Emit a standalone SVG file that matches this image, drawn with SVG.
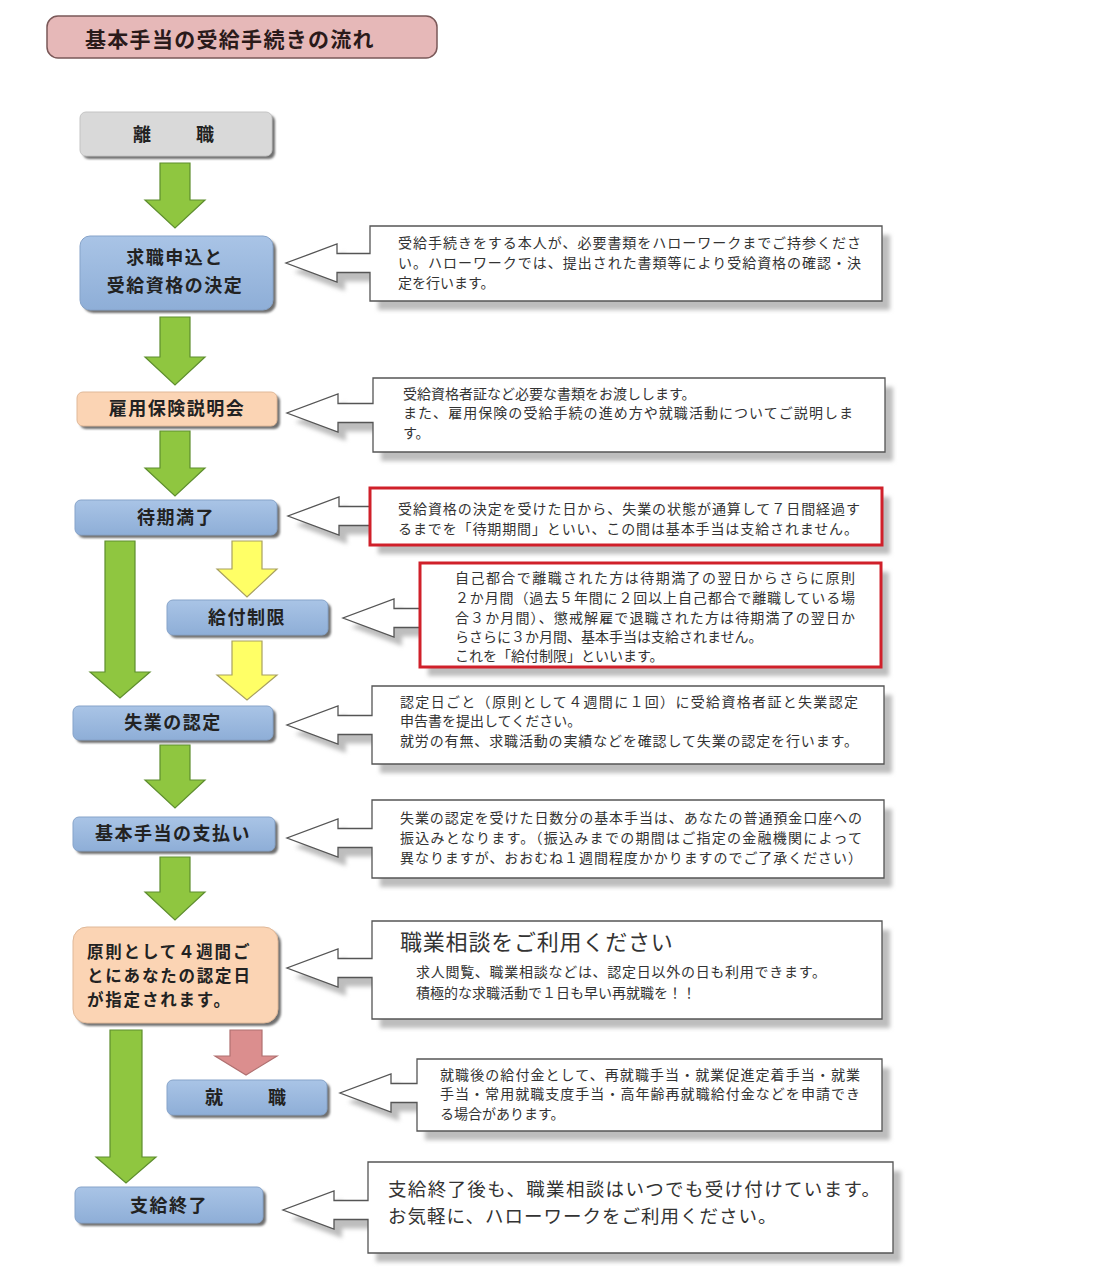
<svg xmlns="http://www.w3.org/2000/svg" width="1115" height="1280" viewBox="0 0 1115 1280">
<defs>
<style>
.jp{font-family:"Noto Sans CJK JP","Noto Sans CJK SC",sans-serif;}
.nt{font-family:"Noto Sans CJK JP",sans-serif;font-weight:bold;font-size:18px;fill:#222;text-anchor:middle;letter-spacing:1.5px;}
.ct{font-family:"Noto Sans CJK JP",sans-serif;font-size:14px;fill:#333;}
.co{fill:#fff;stroke:#555;stroke-width:1.3;}
.sh{fill:#bdbdbd;filter:url(#blur);}
.nsh{fill:#707070;filter:url(#blur1);}
.blue{fill:url(#gBlue);stroke:#86a3c9;stroke-width:1;}
.peach{fill:#fbd4b4;stroke:#e0b898;stroke-width:1;}
.gray{fill:#d9d9d9;stroke:#c4c4c4;stroke-width:1;}
.ga{fill:#8fc640;stroke:#5e8e2e;stroke-width:1.2;}
.ya{fill:#ffff66;stroke:#a8a060;stroke-width:1.2;}
.pa{fill:#db8e8e;stroke:#b07070;stroke-width:1.2;}
.red{fill:none;stroke:#d0202a;stroke-width:3;}
</style>
<linearGradient id="gBlue" x1="0" y1="0" x2="0" y2="1">
<stop offset="0" stop-color="#a9c4e6"/>
<stop offset="1" stop-color="#8eaed7"/>
</linearGradient>
<filter id="blur" x="-10%" y="-20%" width="120%" height="140%"><feGaussianBlur stdDeviation="2"/></filter>
<filter id="blur1" x="-10%" y="-20%" width="120%" height="140%"><feGaussianBlur stdDeviation="1.2"/></filter>
</defs>
<rect width="1115" height="1280" fill="#fff"/>

<g id="title">
<rect x="47" y="16" width="390" height="42" rx="11" fill="#e6b8b8" stroke="#7a5858" stroke-width="1.5"/>
<text x="85" y="47" class="jp" font-weight="bold" font-size="21" letter-spacing="1.3" fill="#2a1a1a">基本手当の受給手続きの流れ</text>
</g>

<g id="connectors">
<path class="ga" d="M160,163 H190 V200 H205 L175,228 L145,200 H160 Z"/>
<path class="ga" d="M160,317 H190 V357 H205 L175,385 L145,357 H160 Z"/>
<path class="ga" d="M160,431 H190 V468 H205 L175,496 L145,468 H160 Z"/>
<path class="ga" d="M105,541 H135 V672 H150 L120,698 L90,672 H105 Z"/>
<path class="ya" d="M232,541 H262 V569 H277 L247,597 L217,569 H232 Z"/>
<path class="ya" d="M232,641 H262 V675 H277 L247,700 L217,675 H232 Z"/>
<path class="ga" d="M160,745 H190 V780 H205 L175,808 L145,780 H160 Z"/>
<path class="ga" d="M160,857 H190 V892 H205 L175,920 L145,892 H160 Z"/>
<path class="ga" d="M110,1030 H142 V1157 H156 L126,1183 L96,1157 H110 Z"/>
<path class="pa" d="M230,1030 H262 V1056 H277 L246,1075 L215,1056 H230 Z"/>
</g>

<g id="n1">
<rect class="nsh" x="83" y="115" width="192" height="44" rx="6"/>
<rect class="gray" x="80" y="112" width="192" height="44" rx="6"/>
<text class="nt" x="175" y="141" style="letter-spacing:3px">離　　職</text>
</g>
<g id="n2">
<rect class="nsh" x="83" y="239" width="193" height="74" rx="10"/>
<rect class="blue" x="80" y="236" width="193" height="74" rx="10"/>
<text class="nt" x="175" y="264">求職申込と</text>
<text class="nt" x="175" y="292">受給資格の決定</text>
</g>
<g id="n3">
<rect class="nsh" x="80" y="395" width="200" height="34" rx="6"/>
<rect class="peach" x="77" y="392" width="200" height="34" rx="6"/>
<text class="nt" x="177" y="415">雇用保険説明会</text>
</g>
<g id="n4">
<rect class="nsh" x="78" y="503" width="202" height="35" rx="6"/>
<rect class="blue" x="75" y="500" width="202" height="35" rx="6"/>
<text class="nt" x="176" y="524">待期満了</text>
</g>
<g id="n5">
<rect class="nsh" x="170" y="603" width="161" height="35" rx="6"/>
<rect class="blue" x="167" y="600" width="161" height="35" rx="6"/>
<text class="nt" x="247" y="624">給付制限</text>
</g>
<g id="n6">
<rect class="nsh" x="76" y="709" width="200" height="34" rx="6"/>
<rect class="blue" x="73" y="706" width="200" height="34" rx="6"/>
<text class="nt" x="173" y="729">失業の認定</text>
</g>
<g id="n7">
<rect class="nsh" x="76" y="820" width="202" height="34" rx="6"/>
<rect class="blue" x="73" y="817" width="202" height="34" rx="6"/>
<text class="nt" x="173" y="840">基本手当の支払い</text>
</g>
<g id="n8">
<rect class="nsh" x="76" y="930" width="205" height="96" rx="14"/>
<rect class="peach" x="73" y="927" width="205" height="96" rx="14"/>
<text class="nt" x="87" y="958" style="text-anchor:start;letter-spacing:1.8px;font-size:16.5px">原則として４週間ご</text>
<text class="nt" x="87" y="982" style="text-anchor:start;letter-spacing:1.8px;font-size:16.5px">とにあなたの認定日</text>
<text class="nt" x="87" y="1006" style="text-anchor:start;letter-spacing:1.8px;font-size:16.5px">が指定されます。</text>
</g>
<g id="n9">
<rect class="nsh" x="170" y="1083" width="160" height="35" rx="6"/>
<rect class="blue" x="167" y="1080" width="160" height="35" rx="6"/>
<text class="nt" x="247" y="1104" style="letter-spacing:3px">就　　職</text>
</g>
<g id="n10">
<rect class="nsh" x="78" y="1190" width="188" height="36" rx="6"/>
<rect class="blue" x="75" y="1187" width="188" height="36" rx="6"/>
<text class="nt" x="169" y="1212">支給終了</text>
</g>

<g id="c1">
<path class="sh" transform="translate(8,9)" d="M370,226 H882 V301 H370 V272.5 H337 V282 L286,263 L337,244 V253.5 H370 Z"/>
<path class="co" d="M370,226 H882 V301 H370 V272.5 H337 V282 L286,263 L337,244 V253.5 H370 Z"/>
<text class="ct" x="398" y="248" textLength="463">受給手続きをする本人が、必要書類をハローワークまでご持参くださ</text>
<text class="ct" x="398" y="268" textLength="463">い。ハローワークでは、提出された書類等により受給資格の確認・決</text>
<text class="ct" x="398" y="288">定を行います。</text>
</g>
<g id="c2">
<path class="sh" transform="translate(8,9)" d="M373,378 H885 V452 H373 V422.5 H338 V432 L287,413 L338,394 V403.5 H373 Z"/>
<path class="co" d="M373,378 H885 V452 H373 V422.5 H338 V432 L287,413 L338,394 V403.5 H373 Z"/>
<text class="ct" x="403" y="399">受給資格者証など必要な書類をお渡しします。</text>
<text class="ct" x="403" y="418" textLength="450">また、雇用保険の受給手続の進め方や就職活動についてご説明しま</text>
<text class="ct" x="403" y="438">す。</text>
</g>
<g id="c3">
<path class="sh" transform="translate(8,9)" d="M370,488 H882 V545 H370 V525.5 H339 V535 L288,516 L339,497 V506.5 H370 Z"/>
<path class="co" d="M370,488 H882 V545 H370 V525.5 H339 V535 L288,516 L339,497 V506.5 H370 Z"/>
<rect class="red" x="370" y="488" width="512" height="57"/>
<text class="ct" x="398" y="514" textLength="462">受給資格の決定を受けた日から、失業の状態が通算して７日間経過す</text>
<text class="ct" x="398" y="534" textLength="460">るまでを「待期期間」といい、この間は基本手当は支給されません。</text>
</g>
<g id="c4">
<path class="sh" transform="translate(8,9)" d="M420,563 H881 V667 H420 V627.5 H394 V637 L343,618 L394,599 V608.5 H420 Z"/>
<path class="co" d="M420,563 H881 V667 H420 V627.5 H394 V637 L343,618 L394,599 V608.5 H420 Z"/>
<rect class="red" x="420" y="563" width="461" height="104"/>
<text class="ct" x="455" y="583" textLength="400">自己都合で離職された方は待期満了の翌日からさらに原則</text>
<text class="ct" x="455" y="603" textLength="400">２か月間（過去５年間に２回以上自己都合で離職している場</text>
<text class="ct" x="455" y="623" textLength="400">合３か月間）、懲戒解雇で退職された方は待期満了の翌日か</text>
<text class="ct" x="455" y="642">らさらに３か月間、基本手当は支給されません。</text>
<text class="ct" x="455" y="661">これを「給付制限」といいます。</text>
</g>
<g id="c5">
<path class="sh" transform="translate(8,9)" d="M372,686 H884 V764 H372 V734.5 H338 V744 L287,725 L338,706 V715.5 H372 Z"/>
<path class="co" d="M372,686 H884 V764 H372 V734.5 H338 V744 L287,725 L338,706 V715.5 H372 Z"/>
<text class="ct" x="400" y="707" textLength="458">認定日ごと（原則として４週間に１回）に受給資格者証と失業認定</text>
<text class="ct" x="400" y="726">申告書を提出してください。</text>
<text class="ct" x="400" y="746" textLength="458">就労の有無、求職活動の実績などを確認して失業の認定を行います。</text>
</g>
<g id="c6">
<path class="sh" transform="translate(8,9)" d="M372,800 H884 V878 H372 V847.5 H338 V857 L287,838 L338,819 V828.5 H372 Z"/>
<path class="co" d="M372,800 H884 V878 H372 V847.5 H338 V857 L287,838 L338,819 V828.5 H372 Z"/>
<text class="ct" x="400" y="823" textLength="462">失業の認定を受けた日数分の基本手当は、あなたの普通預金口座への</text>
<text class="ct" x="400" y="843" textLength="462">振込みとなります。（振込みまでの期間はご指定の金融機関によって</text>
<text class="ct" x="400" y="863" textLength="462">異なりますが、おおむね１週間程度かかりますのでご了承ください）</text>
</g>
<g id="c7">
<path class="sh" transform="translate(8,9)" d="M372,921 H882 V1019 H372 V977.5 H338 V987 L287,968 L338,949 V958.5 H372 Z"/>
<path class="co" d="M372,921 H882 V1019 H372 V977.5 H338 V987 L287,968 L338,949 V958.5 H372 Z"/>
<text class="jp" x="400" y="950" font-size="22" fill="#333" letter-spacing="0.8">職業相談をご利用ください</text>
<text class="ct" x="416" y="977" textLength="410">求人閲覧、職業相談などは、認定日以外の日も利用できます。</text>
<text class="ct" x="416" y="998">積極的な求職活動で１日も早い再就職を！！</text>
</g>
<g id="c8">
<path class="sh" transform="translate(8,9)" d="M417,1059 H882 V1131 H417 V1102.5 H391 V1112 L340,1093 L391,1074 V1083.5 H417 Z"/>
<path class="co" d="M417,1059 H882 V1131 H417 V1102.5 H391 V1112 L340,1093 L391,1074 V1083.5 H417 Z"/>
<text class="ct" x="440" y="1080" textLength="420">就職後の給付金として、再就職手当・就業促進定着手当・就業</text>
<text class="ct" x="440" y="1099" textLength="420">手当・常用就職支度手当・高年齢再就職給付金などを申請でき</text>
<text class="ct" x="440" y="1119">る場合があります。</text>
</g>
<g id="c9">
<path class="sh" transform="translate(8,9)" d="M368,1162 H893 V1253 H368 V1219.5 H334 V1229 L283,1210 L334,1191 V1200.5 H368 Z"/>
<path class="co" d="M368,1162 H893 V1253 H368 V1219.5 H334 V1229 L283,1210 L334,1191 V1200.5 H368 Z"/>
<text class="jp" x="388" y="1196" font-size="18.5" fill="#333" textLength="492">支給終了後も、職業相談はいつでも受け付けています。</text>
<text class="jp" x="388" y="1223" font-size="18.5" fill="#333" letter-spacing="1">お気軽に、ハローワークをご利用ください。</text>
</g>
</svg>
